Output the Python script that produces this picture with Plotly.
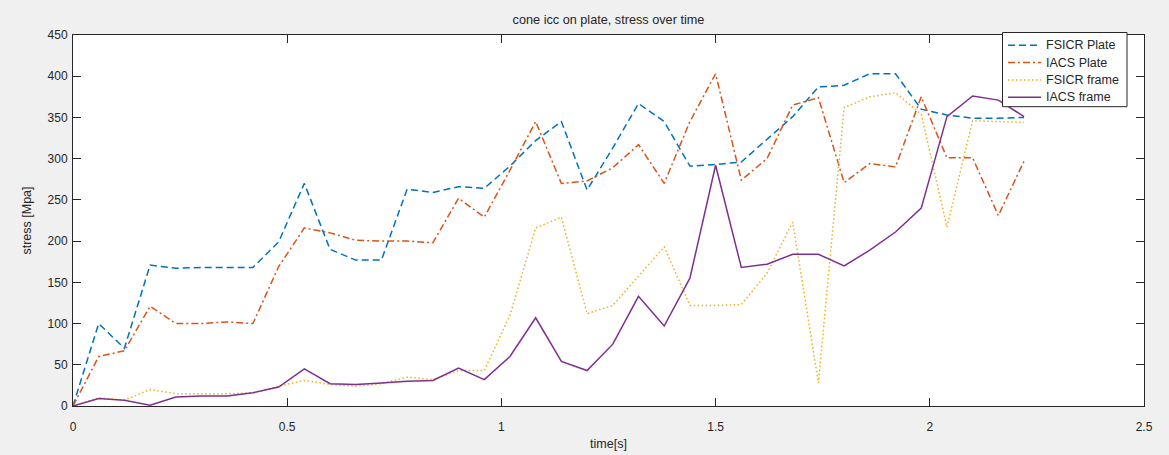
import plotly.graph_objects as go

time_s = [round(0.06 * i, 2) for i in range(38)]

fsicr_plate = [0, 100, 70, 171, 167, 168, 168, 168, 199, 270, 190, 177, 177, 263, 259, 266, 264, 291,
               322, 345, 262, 313, 367, 345, 291, 293, 296, 324, 351, 387, 389, 403, 403, 360, 353, 349, 349, 350]
iacs_plate = [0, 60, 67, 121, 100, 100, 102, 100, 169, 216, 210, 201, 200, 200, 198, 252, 229, 286,
              345, 270, 273, 289, 317, 270, 345, 403, 274, 300, 365, 374, 271, 294, 290, 375, 301, 301, 231, 297]
fsicr_frame = [0, 10, 7, 20, 15, 15, 15, 16, 24, 31, 26, 24, 27, 35, 32, 43, 43, 110,
               216, 229, 112, 122, 157, 193, 122, 122, 123, 161, 223, 28, 362, 375, 380, 354, 217, 346, 345, 344]
iacs_frame = [0, 9, 7, 1, 11, 12, 12, 16, 23, 45, 27, 26, 28, 30, 31, 46, 32, 60,
              107, 54, 43, 75, 133, 97, 155, 292, 168, 172, 184, 184, 170, 189, 211, 240, 351, 376, 371, 351]

series_names = ["FSICR Plate", "IACS Plate", "FSICR frame", "IACS frame"]
series_values = [fsicr_plate, iacs_plate, fsicr_frame, iacs_frame]
series_colors = ["#0072BD", "#D95319", "#EDB120", "#7E2F8E"]
series_dashes = ["7px,4px", "7px,3px,2px,3px", "1.5px,2.5px", "solid"]

x_ticks = [0, 0.5, 1, 1.5, 2, 2.5]
x_tick_labels = ["0", "0.5", "1", "1.5", "2", "2.5"]
y_ticks = [0, 50, 100, 150, 200, 250, 300, 350, 400, 450]

font_fam = "Liberation Sans, Arial, sans-serif"
ink = "#262626"

fig = go.Figure()
for name, vals, color, dash in zip(series_names, series_values, series_colors, series_dashes):
    fig.add_trace(go.Scatter(x=time_s, y=vals, mode="lines", name=name, showlegend=False,
                             line=dict(color=color, width=1.5, dash=dash)))

# Legend box drawn MATLAB-style (paper coordinates relative to the plot area)
W, H = 1071.0, 371.0   # plot area in px
X0, Y0 = 73.0, 406.0   # bottom-left of plot area in px


def px_to_paper(px, py):
    return (px - X0) / W, (Y0 - py) / H


shapes = []
annotations = []
bx0, by0 = px_to_paper(1002.5, 106.7)
bx1, by1 = px_to_paper(1127, 32.5)
shapes.append(dict(type="rect", xref="paper", yref="paper", x0=bx0, y0=by0, x1=bx1, y1=by1,
                   fillcolor="white", line=dict(color=ink, width=1), layer="above"))
entry_y = [45.3, 62.6, 80.0, 97.3]
for name, color, dash, py in zip(series_names, series_colors, series_dashes, entry_y):
    lx0, ly = px_to_paper(1008, py)
    lx1, _ = px_to_paper(1041, py)
    shapes.append(dict(type="line", xref="paper", yref="paper", x0=lx0, y0=ly, x1=lx1, y1=ly,
                       line=dict(color=color, width=1.5, dash=dash), layer="above"))
    tx, _ = px_to_paper(1044, py)
    annotations.append(dict(text=name, xref="paper", yref="paper", x=tx, y=ly, xanchor="left",
                            yanchor="middle", showarrow=False,
                            font=dict(family=font_fam, size=12.5, color=ink)))

axis_common = dict(showline=True, linecolor=ink, linewidth=1, mirror="ticks", automargin=False,
                   ticks="inside", ticklen=8, tickcolor=ink, showgrid=False, zeroline=False,
                   tickfont=dict(family=font_fam, size=12, color=ink))

fig.update_layout(
    width=1169, height=455,
    paper_bgcolor="#f0f0f0", plot_bgcolor="white",
    margin=dict(l=73, r=25, t=35, b=49),
    font=dict(family=font_fam, size=12, color=ink),
    title=dict(text="cone icc on plate, stress over time", x=(73 + 1144) / 2 / 1169, xanchor="center",
               y=1 - 20 / 455, yanchor="middle", yref="container",
               font=dict(family=font_fam, size=12.7, color=ink)),
    xaxis=dict(range=[0, 2.5], tickvals=x_ticks, ticktext=x_tick_labels, ticklabelstandoff=10,
               title=dict(text="time[s]", standoff=5, font=dict(family=font_fam, size=12.5, color=ink)),
               **axis_common),
    yaxis=dict(range=[0, 450], tickvals=y_ticks, ticklabelstandoff=2,
               title=dict(text="stress [Mpa]", standoff=13, font=dict(family=font_fam, size=12.5, color=ink)),
               **axis_common),
    shapes=shapes,
    annotations=annotations,
    showlegend=False,
)

fig.write_html("out.html")
